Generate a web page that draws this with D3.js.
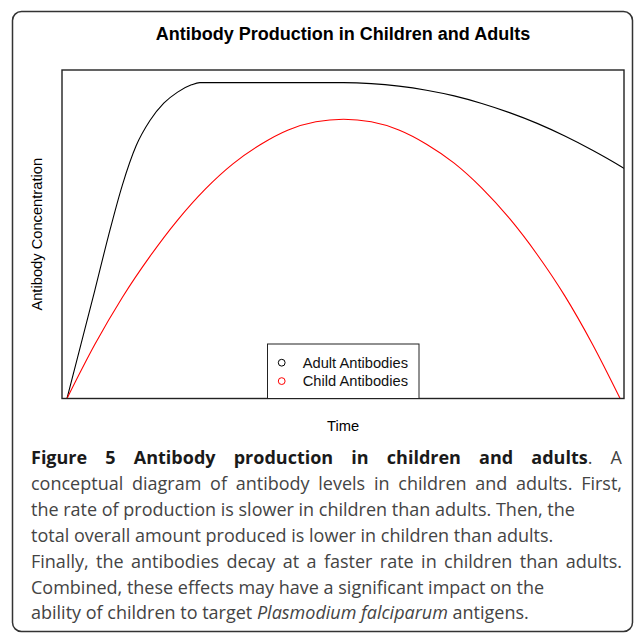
<!DOCTYPE html>
<html>
<head>
<meta charset="utf-8">
<script src="https://cdn.jsdelivr.net/npm/d3@7"></script>
<style>
  body { margin: 0; background: #fff; }
  svg { display: block; }
</style>
</head>
<body>
<svg width="634" height="633"></svg>
<script>
// time points and antibody levels (arbitrary units)
var adultTime  = [0, 2.5, 5, 7.5, 10, 12.5, 15, 17.5, 20, 22.5, 24, 50, 55, 60, 65, 70, 75, 80, 85, 90, 95, 100, 101];
var adultLevel = [0, 17, 34, 51.5, 67.5, 80, 88, 93.5, 97, 99.3, 100, 100, 99.7, 98.9, 97.6, 95.8, 93.4, 90.5, 87.1, 83.1, 78.6, 73.6, 72.5];
var childTime  = [0, 5, 10, 15, 20, 25, 30, 35, 40, 45, 50, 55, 60, 65, 70, 75, 80, 85, 90, 95, 100];
var childLevel = [0, 17, 32, 45, 56.5, 66.3, 74.3, 80.4, 85, 87.6, 88.4, 87.6, 85, 80.5, 74.5, 66.6, 57, 45.6, 32.5, 17.2, 0];

var seriesNames  = ["Adult Antibodies", "Child Antibodies"];
var seriesColors = ["#000000", "#ff0000"];

var chartTitle = "Antibody Production in Children and Adults";
var xTitle = "Time";
var yTitle = "Antibody Concentration";

var svg = d3.select("svg");

// outer frame of the figure
svg.append("rect")
   .attr("x", 12.5).attr("y", 11.5)
   .attr("width", 620).attr("height", 620)
   .attr("rx", 9).attr("ry", 9)
   .attr("fill", "none")
   .attr("stroke", "#333")
   .attr("stroke-width", 1.5);

var plot = {left: 62, right: 624, top: 70, bottom: 398.5};

var xScale = d3.scaleLinear().domain([-0.9, 100.7]).range([plot.left, plot.right]),
    yScale = d3.scaleLinear().domain([0, 104]).range([plot.bottom, plot.top]);

svg.append("clipPath").attr("id", "clip")
   .append("rect")
   .attr("x", plot.left).attr("y", plot.top)
   .attr("width", plot.right - plot.left).attr("height", plot.bottom - plot.top);

var line = d3.line()
    .x(function(d) { return xScale(d[0]); })
    .y(function(d) { return yScale(d[1]); })
    .curve(d3.curveMonotoneX);

var adult = d3.zip(adultTime, adultLevel),
    child = d3.zip(childTime, childLevel);

var g = svg.append("g").attr("clip-path", "url(#clip)");

g.append("path").datum(adult)
 .attr("d", line)
 .attr("fill", "none")
 .attr("stroke", seriesColors[0])
 .attr("stroke-width", 1.1);

g.append("path").datum(child)
 .attr("d", line)
 .attr("fill", "none")
 .attr("stroke", seriesColors[1])
 .attr("stroke-width", 1.1);

// box around plot
svg.append("rect")
   .attr("x", plot.left).attr("y", plot.top)
   .attr("width", plot.right - plot.left).attr("height", plot.bottom - plot.top)
   .attr("fill", "none")
   .attr("stroke", "#222")
   .attr("stroke-width", 1.4);

svg.append("text")
   .attr("x", (plot.left + plot.right) / 2).attr("y", 40)
   .attr("text-anchor", "middle")
   .style("font-family", "'Liberation Sans', Arial, sans-serif")
   .style("font-weight", "bold")
   .style("font-size", "18px")
   .text(chartTitle);

svg.append("text")
   .attr("x", (plot.left + plot.right) / 2).attr("y", 431)
   .attr("text-anchor", "middle")
   .style("font-family", "'Liberation Sans', Arial, sans-serif")
   .style("font-size", "14.7px")
   .text(xTitle);

svg.append("text")
   .attr("transform", "translate(42," + (plot.top + plot.bottom) / 2 + ") rotate(-90)")
   .attr("text-anchor", "middle")
   .style("font-family", "'Liberation Sans', Arial, sans-serif")
   .style("font-size", "14.7px")
   .text(yTitle);

// legend
var legend = svg.append("g");
legend.append("rect")
      .attr("x", 267.5).attr("y", 344)
      .attr("width", 151.5).attr("height", plot.bottom - 344)
      .attr("fill", "#fff")
      .attr("stroke", "#222")
      .attr("stroke-width", 1);

seriesNames.forEach(function(name, i) {
  var cy = 362.7 + i * 18.4;
  legend.append("circle")
        .attr("cx", 281.7).attr("cy", cy).attr("r", 3.4)
        .attr("fill", "none")
        .attr("stroke", seriesColors[i])
        .attr("stroke-width", 1);
  legend.append("text")
        .attr("x", 302.7).attr("y", cy + 5.2)
        .style("font-family", "'Liberation Sans', Arial, sans-serif")
        .style("font-size", "14.7px")
        .attr("fill", "#111")
        .text(name);
});

// figure caption
var capLines = [
  [{t: "Figure 5 Antibody production in children and adults", w: "bold"}, {t: ". A"}],
  [{t: "conceptual diagram of antibody levels in children and adults. First,"}],
  [{t: "the rate of production is slower in children than adults. Then, the"}],
  [{t: "total overall amount produced is lower in children than adults."}],
  [{t: "Finally, the antibodies decay at a faster rate in children than adults."}],
  [{t: "Combined, these effects may have a significant impact on the"}],
  [{t: "ability of children to target "}, {t: "Plasmodium falciparum", s: "italic"}, {t: " antigens."}]
];
var justified = [true, true, false, false, true, false, false];

capLines.forEach(function(parts, i) {
  var txt = svg.append("text")
     .attr("x", 31).attr("y", 464 + i * 25.9)
     .style("font-family", "'Open Sans', sans-serif")
     .style("font-size", "18px")
     .attr("fill", "#444");
  parts.forEach(function(p) {
    txt.append("tspan")
       .style("font-weight", p.w || "normal")
       .style("font-style", p.s || "normal")
       .attr("fill", p.w ? "#1a1a1a" : null)
       .text(p.t);
  });
  if (justified[i]) {
    var full = parts.map(function(p) { return p.t; }).join("");
    var gaps = full.split(" ").length - 1;
    var natural = txt.node().getComputedTextLength();
    txt.style("word-spacing", ((622 - 31 - natural) / gaps) + "px");
  }
});
</script>
</body>
</html>
